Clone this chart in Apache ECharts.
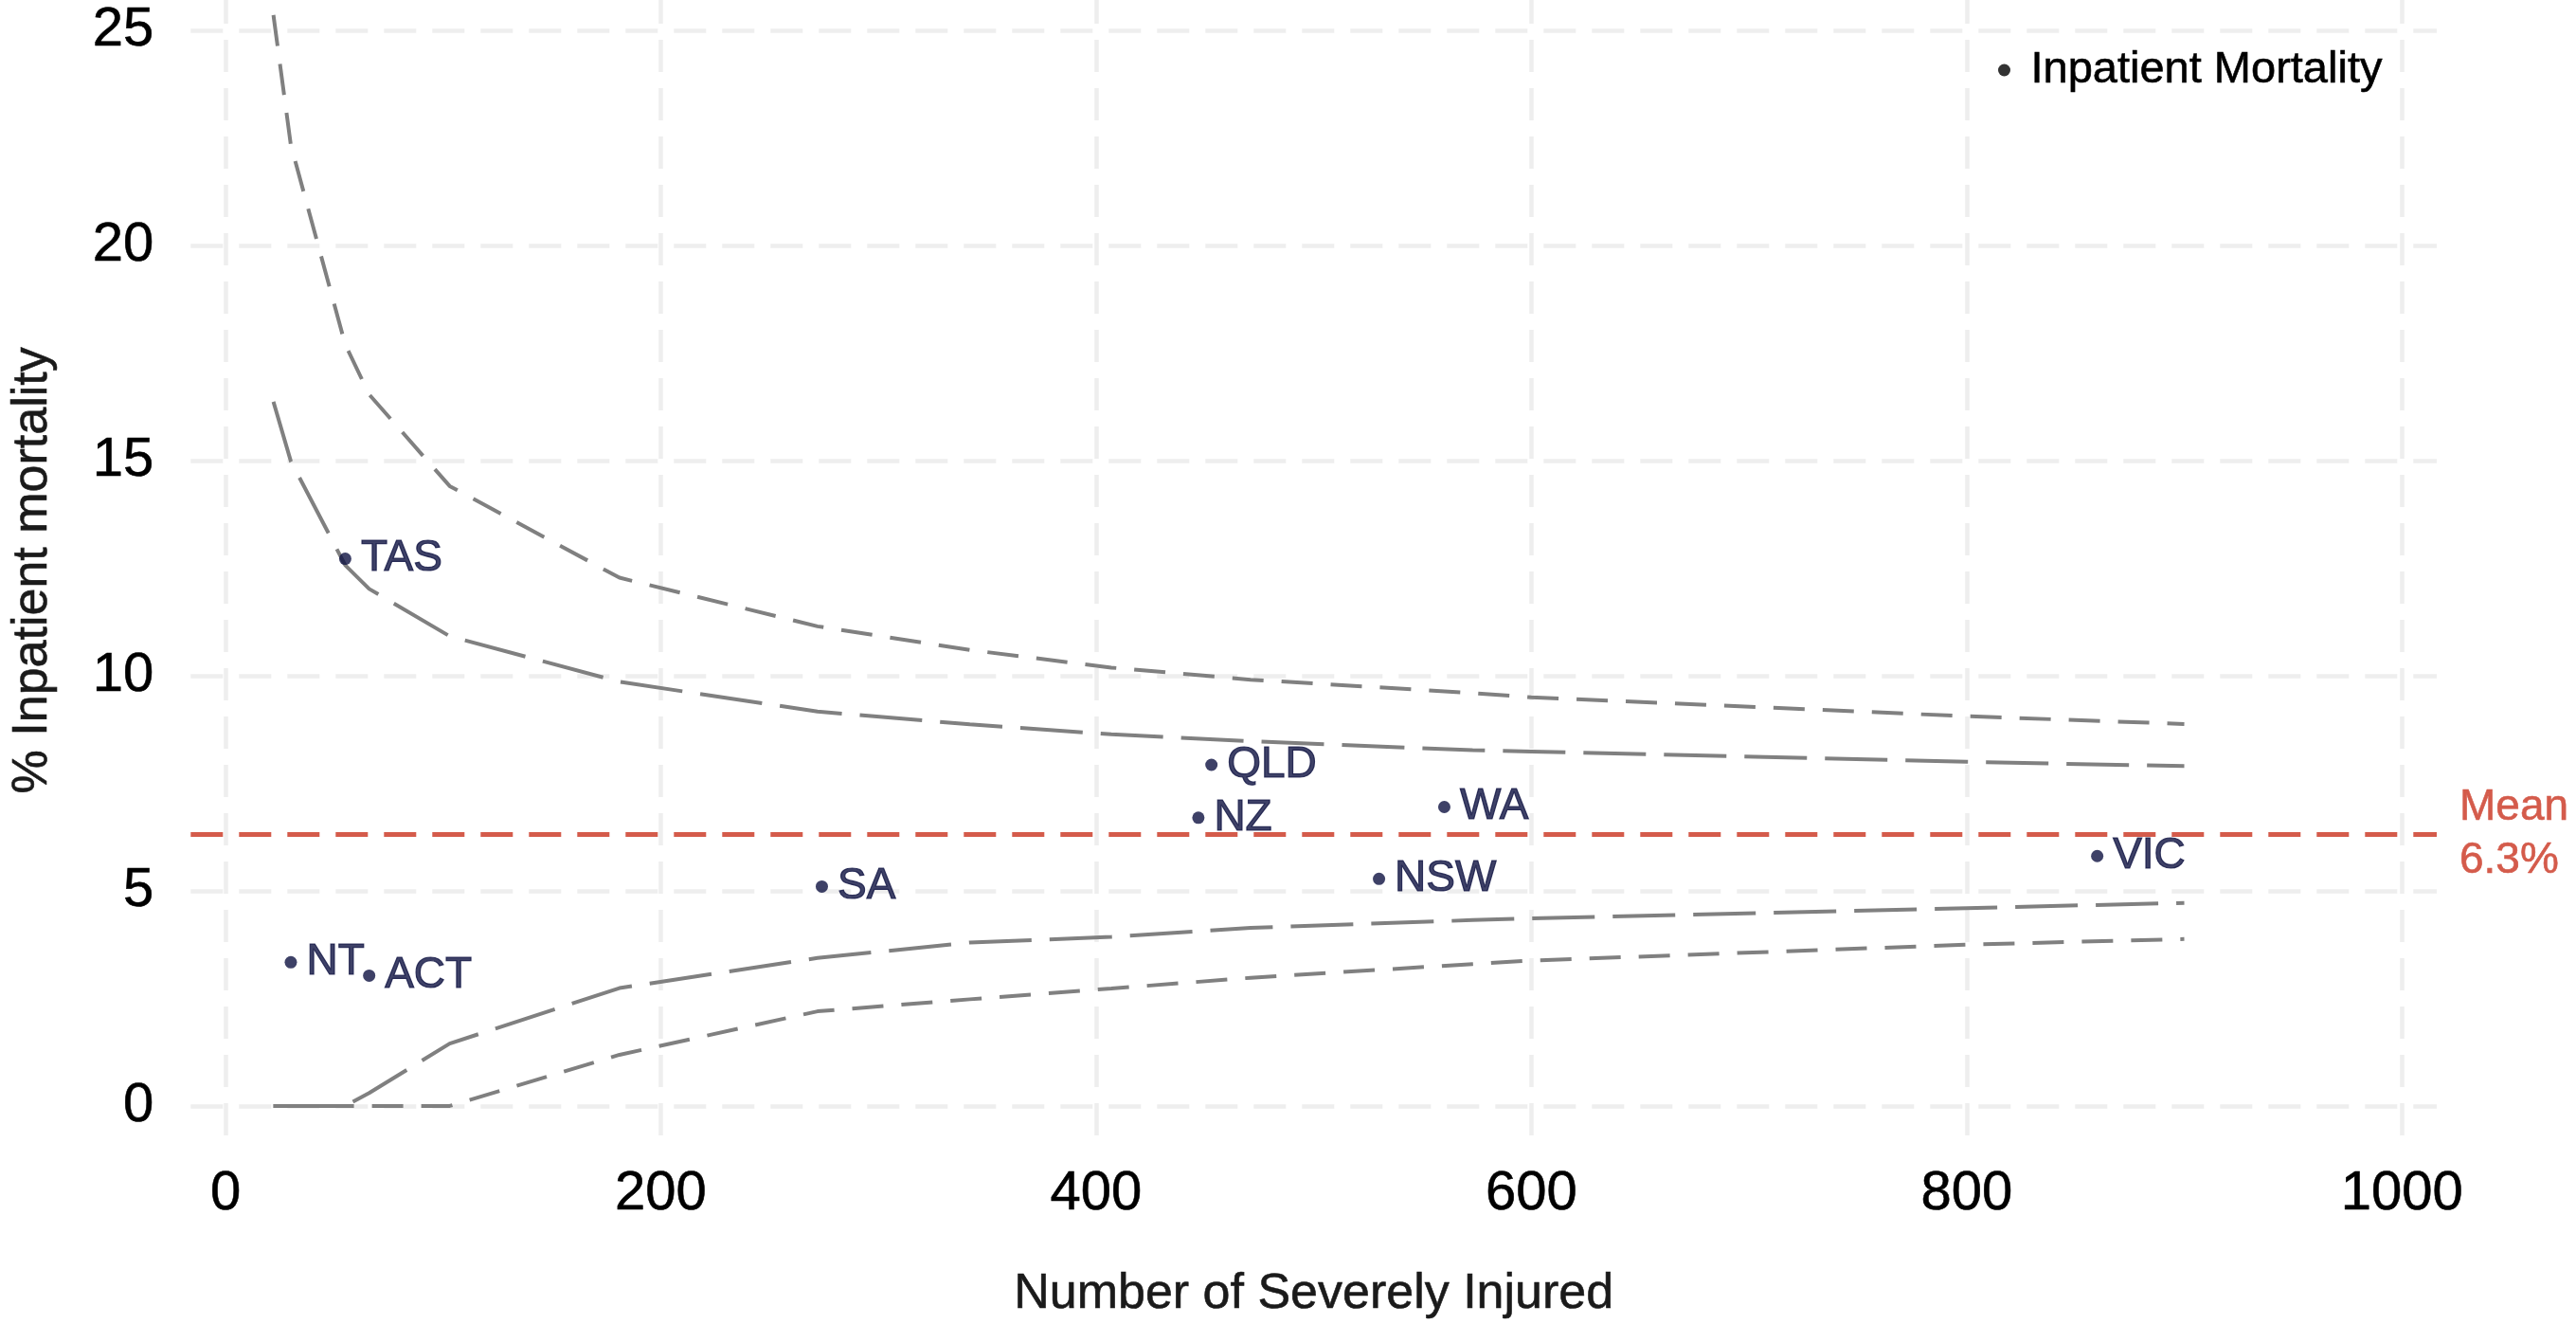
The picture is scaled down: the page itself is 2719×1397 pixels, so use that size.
<!DOCTYPE html>
<html><head><meta charset="utf-8">
<script src="https://cdn.jsdelivr.net/npm/echarts@6/dist/echarts.min.js"></script>
<style>html,body{margin:0;padding:0;background:#fff}#c{width:2719px;height:1397px}</style>
</head><body><div id="c"></div>
<script>
// Data
const regions   = ['NT', 'TAS', 'ACT', 'SA', 'NZ', 'QLD', 'NSW', 'WA', 'VIC'];
const injured   = [30, 55, 66, 274, 447, 453, 530, 560, 860];
const mortality = [3.34, 12.72, 3.03, 5.10, 6.70, 7.93, 5.28, 6.95, 5.81];
const meanMortality = 6.31;

const limitN   = [22, 30, 55, 66, 103, 181, 272, 342, 407, 471, 573, 600, 800, 900];
const upper998 = [25.36, 22.34, 17.7, 16.54, 14.41, 12.28, 11.15, 10.60, 10.19, 9.91, 9.60, 9.50, 9.06, 8.88];
const upper95  = [16.37, 14.99, 12.57, 12.02, 10.92, 9.86, 9.17, 8.87, 8.64, 8.48, 8.27, 8.24, 8.00, 7.90];
const lower95  = [0, 0, 0, 0.30, 1.45, 2.74, 3.44, 3.80, 3.93, 4.14, 4.32, 4.36, 4.60, 4.72];
const lower998 = [0, 0, 0, 0, 0, 1.19, 2.20, 2.48, 2.73, 2.98, 3.30, 3.38, 3.75, 3.88];

const xTicks = [0, 200, 400, 600, 800, 1000];
const yTicks = [0, 5, 10, 15, 20, 25];

const NAVY = '#0e1241';
const GREY = '#808080';
const RED = '#d45b4b';
const TITLE = '#1a1a1a';
const FONT = "'Liberation Sans', Arial, Helvetica, sans-serif";

const pairs = (xs, ys) => xs.map((x, i) => [x, ys[i]]);
function limitSeries(name, ys, dash) {
  return {
    name: name, type: 'line', data: pairs(limitN, ys), symbol: 'none', silent: true,
    lineStyle: { color: GREY, width: 4, type: dash }, z: 2
  };
}
const gridLine = { color: '#eeeeee', width: 4.5, type: [34, 17] };
const plain = v => String(v);
const heavy = (c, w) => ({ textBorderColor: c, textBorderWidth: w });

const chart = echarts.init(document.getElementById('c'), null, { renderer: 'canvas' });
chart.setOption({
  animation: false,
  textStyle: { fontFamily: FONT },
  grid: { left: 191, top: 0, width: 2381, height: 1206, containLabel: false },
  legend: {
    data: [{ name: 'Inpatient Mortality', icon: 'circle', itemStyle: { color: '#000' } }],
    left: 2104, top: 41, itemWidth: 46, itemHeight: 13,
    textStyle: Object.assign({ fontSize: 47, color: '#000', fontFamily: FONT, lineHeight: 56 }, heavy('#000', 0.6))
  },
  xAxis: {
    type: 'value', min: -16, max: 1016,
    axisLine: { show: false },
    axisTick: { show: false, customValues: xTicks },
    axisLabel: Object.assign({ customValues: xTicks, formatter: plain, fontSize: 58, color: '#000', margin: 27, fontFamily: FONT }, heavy('#000', 0.6)),
    splitLine: { show: true, lineStyle: Object.assign({ dashOffset: 9 }, gridLine) },
    name: 'Number of Severely Injured', nameLocation: 'middle', nameGap: 136,
    nameTextStyle: Object.assign({ fontSize: 52, color: TITLE, fontFamily: FONT }, heavy(TITLE, 0.6))
  },
  yAxis: {
    type: 'value', min: -0.81, max: 25.71,
    axisLine: { show: false },
    axisTick: { show: false, customValues: yTicks },
    axisLabel: Object.assign({ customValues: yTicks, formatter: plain, fontSize: 58, color: '#000', margin: 39, fontFamily: FONT }, heavy('#000', 0.6)),
    splitLine: { show: true, lineStyle: gridLine },
    name: '% Inpatient mortality', nameLocation: 'middle', nameGap: 141, nameRotate: 90,
    nameTextStyle: Object.assign({ fontSize: 52, color: TITLE, fontFamily: FONT }, heavy(TITLE, 0.6))
  },
  series: [
    limitSeries('upper 99.8%', upper998, [33, 19]),
    limitSeries('upper 95%', upper95, [66, 19]),
    limitSeries('lower 95%', lower95, [66, 19]),
    limitSeries('lower 99.8%', lower998, [33, 19]),
    {
      name: 'Mean', type: 'line', data: [], silent: true,
      markLine: {
        silent: true, symbol: 'none', animation: false,
        data: [{ yAxis: meanMortality }],
        lineStyle: { color: RED, width: 5, type: [34, 17] },
        label: Object.assign({
          show: true, position: 'end', distance: 24,
          formatter: 'Mean\n' + meanMortality.toFixed(1) + '%',
          color: RED, fontSize: 46, lineHeight: 56, fontFamily: FONT, align: 'left'
        }, heavy(RED, 0.6))
      },
      z: 3
    },
    {
      name: 'Inpatient Mortality', type: 'scatter', symbol: 'circle', symbolSize: 13,
      itemStyle: { color: NAVY },
      data: regions.map((r, i) => ({ name: r, value: [injured[i], mortality[i]] })),
      label: Object.assign({
        show: true, position: 'right', distance: 10, formatter: '{b}',
        color: NAVY, fontSize: 46, fontFamily: FONT
      }, heavy(NAVY, 1.2)),
      z: 5
    }
  ]
});
</script></body></html>
